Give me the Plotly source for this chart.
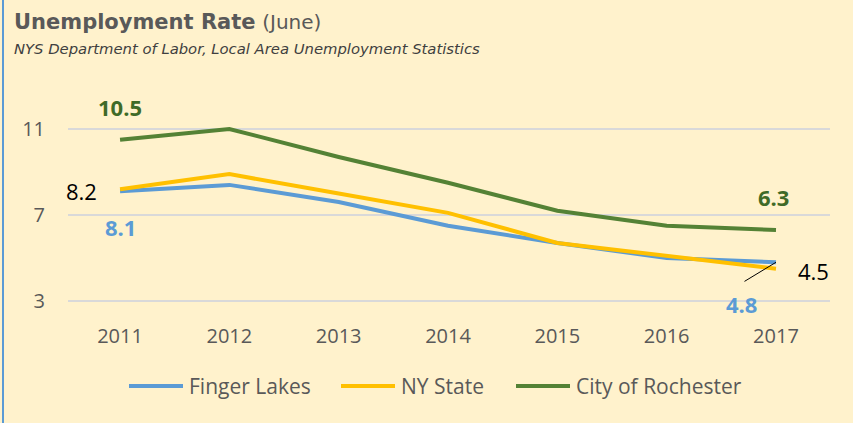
import plotly.graph_objects as go

years = [2011, 2012, 2013, 2014, 2015, 2016, 2017]
finger_lakes = [8.1, 8.4, 7.6, 6.5, 5.7, 5.0, 4.8]
ny_state = [8.2, 8.9, 8.0, 7.1, 5.7, 5.1, 4.5]
rochester = [10.5, 11.0, 9.7, 8.5, 7.2, 6.5, 6.3]
y_ticks = [3, 7, 11]
series_names = ["Finger Lakes", "NY State", "City of Rochester"]

BLUE = "#5B9BD5"
YELLOW = "#FFC000"
GREEN = "#548235"
DKGREEN = "#3F6A27"
GRAY = "#595959"
FONT = "Open Sans"
TFONT = "DejaVu Sans"

L, R, T, B = 68, 23, 105, 105
W, H = 853, 423
PW, PH = W - L - R, H - T - B


def px_x(p):
    return (p - L) / PW


def px_y(p):
    return 1 - (p - T) / PH


fig = go.Figure()
series = list(zip(series_names, [finger_lakes, ny_state, rochester], [BLUE, YELLOW, GREEN]))
for name, vals, col in series:
    fig.add_trace(go.Scatter(x=years, y=vals, name=name, mode="lines",
                             line=dict(color=col, width=4), showlegend=False))

fig.update_layout(
    width=W, height=H,
    margin=dict(l=L, r=R, t=T, b=B, autoexpand=False),
    paper_bgcolor="#FFF2CC", plot_bgcolor="#FFF2CC",
    font=dict(family=FONT, color=GRAY, size=18),
    showlegend=False,
    xaxis=dict(range=[2010.524, 2017.494], tickvals=years, ticktext=[str(y) for y in years],
               showgrid=False, zeroline=False, showline=False, ticks="",
               tickfont=dict(size=20, color=GRAY), ticklabelstandoff=4),
    yaxis=dict(range=[2.209, 12.116], tickvals=y_ticks, showgrid=True, gridcolor="#D9D9D9",
               gridwidth=2, zeroline=False, showline=False, ticks="",
               tickfont=dict(size=20, color=GRAY), ticklabelstandoff=22),
)

# legend (drawn manually for long line samples)
leg_line_x = [129, 341, 516]
for (name, vals, col), x0 in zip(series, leg_line_x):
    fig.add_shape(type="line", xref="paper", yref="paper",
                  x0=px_x(x0), x1=px_x(x0 + 54), y0=px_y(386), y1=px_y(386),
                  line=dict(color=col, width=4))
    fig.add_annotation(xref="paper", yref="paper", x=px_x(x0 + 58), y=px_y(386),
                       xanchor="left", yanchor="middle", showarrow=False, text=name,
                       font=dict(size=21, color=GRAY, family=FONT))

fig.add_annotation(xref="paper", yref="paper", x=px_x(12), y=px_y(22),
                   xanchor="left", yanchor="middle", showarrow=False,
                   text="<b>Unemployment Rate</b> <span style='font-size:20px'>(June)</span>",
                   font=dict(size=21, color=GRAY, family=TFONT))
fig.add_annotation(xref="paper", yref="paper", x=px_x(12), y=px_y(49),
                   xanchor="left", yanchor="middle", showarrow=False,
                   text="<i>NYS Department of Labor, Local Area Unemployment Statistics</i>",
                   font=dict(size=14.8, color="#404040", family=TFONT))

# data labels
fig.add_annotation(x=years[0], y=rochester[0], text="<b>%.1f</b>" % rochester[0], showarrow=False,
                   yshift=33, font=dict(size=22, color=DKGREEN))
fig.add_annotation(x=years[-1], y=rochester[-1], text="<b>%.1f</b>" % rochester[-1], showarrow=False,
                   yshift=33, xshift=-2, font=dict(size=22, color=DKGREEN))
fig.add_annotation(x=years[0], y=ny_state[0], text="%.1f" % ny_state[0], showarrow=False,
                   xshift=-39, yshift=-2, font=dict(size=22, color="#000000"))
fig.add_annotation(x=years[-1], y=ny_state[-1], text="%.1f" % ny_state[-1], showarrow=False,
                   xshift=38, yshift=-2, font=dict(size=22, color="#000000"))
fig.add_annotation(x=years[0], y=finger_lakes[0], text="<b>%.1f</b>" % finger_lakes[0], showarrow=False,
                   yshift=-36, font=dict(size=22, color=BLUE))
fig.add_annotation(x=years[-1], y=finger_lakes[-1], text="<b>%.1f</b>" % finger_lakes[-1], showarrow=False,
                   yshift=-42, xshift=-34, font=dict(size=22, color=BLUE))
fig.add_annotation(x=years[-1], y=finger_lakes[-1], text="", showarrow=True, arrowhead=0,
                   arrowwidth=1, arrowcolor="#000000", ax=-33, ay=20, standoff=0)

# left border
fig.add_shape(type="line", xref="paper", yref="paper",
              x0=px_x(3), x1=px_x(3), y0=px_y(H), y1=px_y(0),
              line=dict(color="#5B9BD5", width=2))

fig.write_html("out.html", config={"displayModeBar": False},
               post_script="document.body.style.margin='0';")
